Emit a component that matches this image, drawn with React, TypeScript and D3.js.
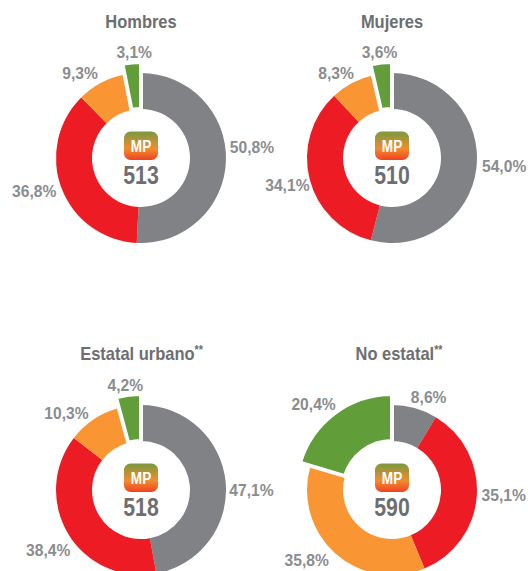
import React from "react";
import * as d3 from "d3";

const titles = ["Hombres", "Mujeres", "Estatal urbano", "No estatal"];
const titleNotes = ["", "", "**", "**"];
const scores = [513, 510, 518, 590];
const hombres = [50.8, 36.8, 9.3, 3.1];
const mujeres = [54.0, 34.1, 8.3, 3.6];
const estatal = [47.1, 38.4, 10.3, 4.2];
const noEstatal = [8.6, 35.1, 35.8, 20.4];
const seriesValues = [hombres, mujeres, estatal, noEstatal];
const colors = ["#808285", "#ED1C24", "#F99533", "#619E3A"];

const centers: [number, number][] = [[141, 158], [392, 158], [141, 490], [392, 490]];
const titleX = [141, 392, 141.5, 399];
const titleY = [28, 28, 360, 360];
const nudges: [number, number][][] = [
  [[0, -13.6], [-3, -4], [-9, 8], [4, -1.5]],
  [[2, -5], [3, 1], [-4, 8], [0, -1]],
  [[0, 10], [2, 6], [-13, 11], [-1, -1]],
  [[7, 8], [1, -3], [-11, -8], [-12, -2]],
];

const R = 85, RX = 96, r0 = 49;
const font = "'Liberation Sans', sans-serif";
const fmt = (v: number) => v.toFixed(1).replace(".", ",") + "%";

function Squeezed({ x, y, sx, size, fill, children }: { x: number; y: number; sx: number; size: number; fill: string; children: React.ReactNode }) {
  return (
    <g transform={`translate(${x},${y}) scale(${sx},1)`}>
      <text x={0} y={0} textAnchor="middle" fontFamily={font} fontWeight="700" fontSize={size} fill={fill}>{children}</text>
    </g>
  );
}

function Donut({ i }: { i: number }) {
  const vals = seriesValues[i];
  const [cx, cy] = centers[i];
  const pie = d3.pie<number>().sort(null).value((d) => d);
  const arcs = pie(vals);
  const arc = d3.arc<d3.PieArcDatum<number>>().innerRadius(r0);
  return (
    <g>
      <Squeezed x={titleX[i]} y={titleY[i]} sx={0.89} size={18.5} fill="#6D6E71">
        {titles[i]}
        {titleNotes[i] && <tspan fontSize={12} dy={-6}>{titleNotes[i]}</tspan>}
      </Squeezed>
      <g transform={`translate(${cx},${cy})`}>
        {arcs.map((a, k) =>
          k < 3 ? <path key={k} d={arc.outerRadius(R)(a) ?? ""} fill={colors[k]} /> : null
        )}
        <path d={arc.outerRadius(RX)(arcs[3]) ?? ""} fill={colors[3]} stroke="#fff" strokeWidth={4} strokeLinejoin="miter" />
        {arcs.map((a, k) => {
          const m = (a.startAngle + a.endAngle) / 2;
          const x = Math.sin(m) * 111 + nudges[i][k][0];
          const y = -Math.cos(m) * 105 + nudges[i][k][1];
          return (
            <Squeezed key={k} x={x} y={y + 5.8} sx={0.92} size={17} fill="#8A8C8F">
              {fmt(vals[k])}
            </Squeezed>
          );
        })}
        <rect x={-17} y={-26.5} width={34} height={28.5} rx={6.5} fill="url(#mp)" />
        <Squeezed x={0} y={-6} sx={0.8} size={17} fill="#fff">MP</Squeezed>
        <Squeezed x={0} y={26} sx={0.85} size={25} fill="#6D6E71">{scores[i]}</Squeezed>
      </g>
    </g>
  );
}

export default function App() {
  return (
    <svg width={528} height={571} style={{ position: "absolute", left: 0, top: 0 }}>
      <defs>
        <linearGradient id="mp" x1="0" y1="0" x2="0" y2="1">
          <stop offset="0" stopColor="#78993F" />
          <stop offset="0.6" stopColor="#F28C2E" />
          <stop offset="1" stopColor="#EE4323" />
        </linearGradient>
      </defs>
      <rect width={528} height={571} fill="#fff" />
      {titles.map((_, i) => <Donut key={i} i={i} />)}
    </svg>
  );
}
